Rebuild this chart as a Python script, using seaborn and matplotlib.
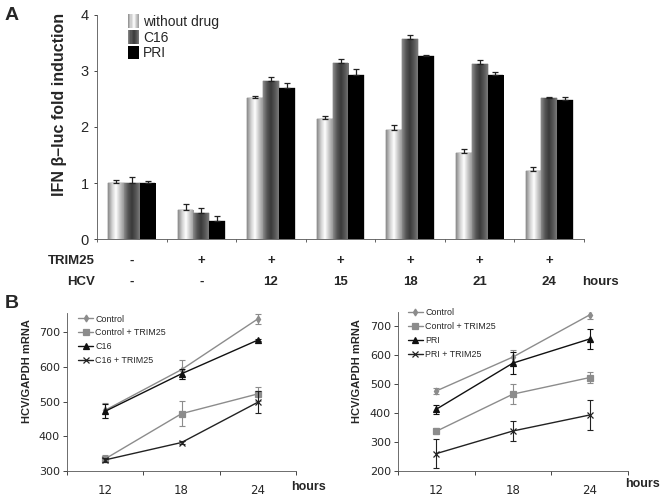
import numpy as np
import pandas as pd
import matplotlib
matplotlib.use("Agg")
import matplotlib.pyplot as plt
import seaborn as sns
from matplotlib.patches import Patch, Rectangle
from matplotlib.container import BarContainer
from matplotlib.legend_handler import HandlerBase

sns.set_theme(style="ticks")
plt.rcParams['font.family'] = ['Liberation Sans', 'DejaVu Sans']

# ---------------- data: panel A ----------------
groups = ["g1", "g2", "g3", "g4", "g5", "g6", "g7"]
trim25_row = ["-", "+", "+", "+", "+", "+", "+"]
hcv_row = ["-", "-", "12", "15", "18", "21", "24"]
drugs = ["without drug", "C16", "PRI"]
without_drug = [1.00, 0.52, 2.52, 2.15, 1.95, 1.53, 1.21]
c16 = [1.00, 0.47, 2.82, 3.14, 3.58, 3.13, 2.52]
pri = [1.00, 0.33, 2.69, 2.93, 3.27, 2.92, 2.49]
err_without = [0.05, 0.10, 0.03, 0.04, 0.08, 0.08, 0.08]
err_c16 = [0.10, 0.08, 0.07, 0.08, 0.07, 0.06, 0.02]
err_pri = [0.04, 0.08, 0.10, 0.10, 0.02, 0.07, 0.05]

# ---------------- data: panel B ----------------
hours = ["12", "18", "24"]
left_series = ["Control", "Control + TRIM25", "C16", "C16 + TRIM25"]
left_control = [475, 592, 738]
left_control_trim = [335, 465, 522]
left_c16 = [472, 580, 677]
left_c16_trim = [332, 382, 498]
left_err_control = [22, 28, 15]
left_err_control_trim = [10, 36, 20]
left_err_c16 = [20, 15, 3]
left_err_c16_trim = [5, 5, 32]

right_series = ["Control", "Control + TRIM25", "PRI", "PRI + TRIM25"]
right_control = [476, 593, 738]
right_control_trim = [337, 465, 522]
right_pri = [413, 572, 655]
right_pri_trim = [260, 338, 393]
right_err_control = [10, 25, 15]
right_err_control_trim = [10, 35, 20]
right_err_pri = [15, 38, 35]
right_err_pri_trim = [50, 35, 50]

fig = plt.figure(figsize=(6.62, 4.96), dpi=100)

# ================= Panel A =================
axA = fig.add_axes([97 / 662, 1 - 239 / 496, 487 / 662, 224 / 496])
dfA = pd.DataFrame({
    "group": groups * 3,
    "drug": [d for d in drugs for _ in groups],
    "value": without_drug + c16 + pri,
})
errs = [err_without, err_c16, err_pri]
base_cols = ["#bbbbbb", "#555555", "#000000"]
sns.barplot(data=dfA, x="group", y="value", hue="drug", hue_order=drugs,
            order=groups, palette=base_cols, width=0.68, ax=axA,
            errorbar=None, legend=False, saturation=1)

grad_maps = [
    matplotlib.colors.LinearSegmentedColormap.from_list(
        "wd", ["#8a8a8a", "#d0d0d0", "#ffffff", "#c8c8c8", "#9a9a9a"]),
    matplotlib.colors.LinearSegmentedColormap.from_list(
        "c16", ["#8a8a8a", "#555555", "#3a3a3a", "#555555", "#7a7a7a"]),
    matplotlib.colors.LinearSegmentedColormap.from_list(
        "pri", ["#000000", "#000000"]),
]
grad = np.linspace(0, 1, 64).reshape(1, -1)
bar_containers = [c for c in axA.containers if isinstance(c, BarContainer)]
for ci, cont in enumerate(bar_containers):
    for bi, p in enumerate(cont.patches):
        x0, w, h = p.get_x(), p.get_width(), p.get_height()
        p.set_edgecolor("#333333")
        p.set_linewidth(0.3)
        im = axA.imshow(grad, cmap=grad_maps[ci], aspect="auto",
                        extent=[x0, x0 + w, 0, h], zorder=p.get_zorder() + 0.1,
                        interpolation="bilinear")
        im.set_clip_path(p)
        cx = x0 + w / 2
        axA.errorbar(cx, h, yerr=[[0], [errs[ci][bi]]], fmt="none",
                     ecolor="#222222", elinewidth=0.9, capsize=2.2,
                     capthick=0.9, zorder=5)

axA.set_xlim(-0.5, 6.5)
axA.set_ylim(0, 4)
axA.set_yticks([0, 1, 2, 3, 4])
axA.tick_params(axis="y", labelsize=10.5, length=2, width=0.6, pad=4)
axA.set_xticks(np.arange(-0.5, 7.0, 1.0))
axA.set_xticklabels([])
axA.tick_params(axis="x", length=2, width=0.5)
axA.set_xlabel("")
axA.set_ylabel("IFN β–luc fold induction", fontsize=11.5, fontweight="bold")
axA.yaxis.set_label_coords(-0.062, 0.6)
for s in ["top", "right"]:
    axA.spines[s].set_visible(False)
for s in ["left", "bottom"]:
    axA.spines[s].set_linewidth(0.6)
    axA.spines[s].set_color("#555555")

tr = matplotlib.transforms.blended_transform_factory(axA.transData, fig.transFigure)
for i, (t, h) in enumerate(zip(trim25_row, hcv_row)):
    axA.text(i, 1 - 261 / 496, t, transform=tr, ha="center", va="center",
             fontsize=9.5, fontweight="bold")
    axA.text(i, 1 - 282 / 496, h, transform=tr, ha="center", va="center",
             fontsize=9.5, fontweight="bold")
fig.text(95 / 662, 1 - 261 / 496, "TRIM25", ha="right", va="center",
         fontsize=9.5, fontweight="bold")
fig.text(95 / 662, 1 - 282 / 496, "HCV", ha="right", va="center",
         fontsize=9.5, fontweight="bold")
fig.text(600 / 662, 1 - 282 / 496, "hours", ha="center", va="center",
         fontsize=9.5, fontweight="bold")


class GradHandler(HandlerBase):
    def __init__(self, cmap, n=10):
        super().__init__()
        self.cmap = cmap
        self.n = n

    def create_artists(self, legend, orig_handle, xdescent, ydescent,
                       width, height, fontsize, trans):
        arts = []
        sw = width / self.n
        for k in range(self.n):
            c = self.cmap((k + 0.5) / self.n)
            r = Rectangle((-xdescent + k * sw, -ydescent - 1), sw * 1.02,
                          height + 2, facecolor=c, edgecolor="none",
                          transform=trans)
            arts.append(r)
        return arts


legA = [Patch(facecolor="#d0d0d0", label="without drug"),
        Patch(facecolor="#666666", label="C16"),
        Patch(facecolor="#000000", label="PRI")]
axA.legend(handles=legA, loc="upper left", bbox_to_anchor=(0.064, 1.0),
           frameon=False, fontsize=10, handlelength=0.8, handleheight=0.8,
           handletextpad=0.25, labelspacing=0.12, borderaxespad=0.0,
           borderpad=0.0,
           handler_map={legA[0]: GradHandler(grad_maps[0]),
                        legA[1]: GradHandler(grad_maps[1]),
                        legA[2]: GradHandler(grad_maps[2])})

fig.text(5 / 662, 1 - 16 / 496, "A", fontsize=14, fontweight="bold",
         ha="left", va="center")
fig.text(5 / 662, 1 - 303 / 496, "B", fontsize=14, fontweight="bold",
         ha="left", va="center")

# ================= Panel B =================
styles = [
    dict(color="#8c8c8c", marker="d", ms=3.5),
    dict(color="#8c8c8c", marker="s", ms=4),
    dict(color="#111111", marker="^", ms=4),
    dict(color="#222222", marker="x", ms=4),
]


def panel_b(ax, names, vals, errs_, ylim, yticks, leg_anchor):
    xs = np.arange(len(hours))
    for name, v, e, st in zip(names, vals, errs_, styles):
        df = pd.DataFrame({"x": xs, "y": v})
        sns.lineplot(data=df, x="x", y="y", ax=ax, color=st["color"],
                     marker=st["marker"], markersize=st["ms"], linewidth=1.0,
                     markeredgecolor=st["color"], markeredgewidth=0.9,
                     label=name)
        ax.errorbar(xs, v, yerr=e, fmt="none", ecolor=st["color"],
                    elinewidth=0.8, capsize=2.2, capthick=0.8)
    ax.set_xlim(-0.5, 2.5)
    ax.set_ylim(*ylim)
    ax.set_yticks(yticks)
    ax.set_yticklabels([str(t) for t in yticks], family="DejaVu Sans")
    ax.set_xticks([-0.5, 0.5, 1.5, 2.5])
    ax.set_xticklabels([])
    ax.set_xticks(xs, minor=True)
    ax.set_xticklabels(hours, minor=True, family="DejaVu Sans")
    ax.tick_params(axis="x", which="minor", length=0, labelsize=8.5, pad=9)
    ax.tick_params(axis="x", which="major", length=3, width=0.6)
    ax.tick_params(axis="y", labelsize=8, length=3, width=0.6, pad=2)
    ax.set_xlabel("")
    ax.set_ylabel("HCV/GAPDH mRNA", fontsize=8, fontweight="bold")
    ax.yaxis.set_label_coords(-0.155, 0.63)
    for s in ["top", "right"]:
        ax.spines[s].set_visible(False)
    for s in ["left", "bottom"]:
        ax.spines[s].set_linewidth(0.6)
        ax.spines[s].set_color("#555555")
    ax.legend(loc="upper left", bbox_to_anchor=leg_anchor, frameon=False,
              fontsize=6.4, handlelength=1.7, handletextpad=0.25,
              labelspacing=0.55, borderaxespad=0.0, borderpad=0.0)


axB1 = fig.add_axes([67 / 662, 1 - 471 / 496, (296 - 67) / 662, (471 - 313) / 496])
panel_b(axB1, left_series,
        [left_control, left_control_trim, left_c16, left_c16_trim],
        [left_err_control, left_err_control_trim, left_err_c16, left_err_c16_trim],
        (300, 755), [300, 400, 500, 600, 700], (0.048, 0.99))
fig.text(308 / 662, 1 - 487 / 496, "hours", fontsize=9, fontweight="bold",
         ha="center", va="center")

axB2 = fig.add_axes([398 / 662, 1 - 471 / 496, (628 - 398) / 662, (471 - 312) / 496])
panel_b(axB2, right_series,
        [right_control, right_control_trim, right_pri, right_pri_trim],
        [right_err_control, right_err_control_trim, right_err_pri, right_err_pri_trim],
        (200, 748), [200, 300, 400, 500, 600, 700], (0.043, 1.025))
fig.text(643 / 662, 1 - 484 / 496, "hours", fontsize=9, fontweight="bold",
         ha="center", va="center")

fig.savefig("out.png", dpi=100)
